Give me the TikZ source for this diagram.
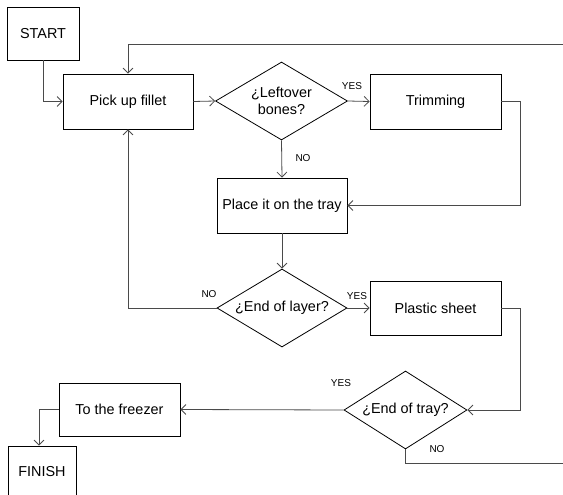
\documentclass[tikz,border=0pt]{standalone}
\usepackage{fontspec}
\setmainfont{Liberation Sans}
\usetikzlibrary{shapes.geometric,arrows.meta}
\definecolor{conn}{HTML}{4A4A4A}
\tikzset{
  box/.style={draw=black, line width=0.8pt, rectangle, inner sep=0pt, align=center,
    font=\fontsize{14.4}{17}\selectfont},
  dia/.style={draw=black, line width=0.8pt, diamond, aspect=1.7, inner sep=0pt, align=center,
    font=\fontsize{14.4}{17}\selectfont},
  flow/.style={draw=conn, line width=0.8pt, -{Straight Barb[length=5pt,width=10pt]}},
  plain/.style={draw=conn, line width=0.8pt},
  lbl/.style={inner sep=0pt, font=\fontsize{10}{12}\selectfont}
}
\begin{document}
\begin{tikzpicture}[x=1pt,y=-1pt]
\useasboundingbox (0,0) rectangle (563,495);
% nodes
\node[box, minimum width=72, minimum height=53] (start) at (43,33.5) {START};
\node[box, minimum width=130, minimum height=55] (pick) at (128,101.5) {Pick up fillet};
\node[dia, minimum width=132, minimum height=78] (bones) at (281.5,101) {¿Leftover\\bones?};
\node[box, minimum width=131, minimum height=55] (trim) at (435.5,101.5) {Trimming};
\node[box, minimum width=130, minimum height=55] (place) at (282,205.5) {Place it on the tray};
\node[dia, minimum width=130, minimum height=78] (layer) at (282,308) {¿End of layer?};
\node[box, minimum width=131, minimum height=54] (plastic) at (435.5,308) {Plastic sheet};
\node[dia, minimum width=123, minimum height=78] (tray) at (405.5,410) {¿End of tray?};
\node[box, minimum width=121, minimum height=53] (freezer) at (119.5,409.5) {To the freezer};
\node[box, minimum width=68, minimum height=52] (finish) at (42,472) {FINISH};
% free ends
\coordinate (topend) at (563,44);
\coordinate (noend) at (563,463);
\coordinate (trimturn) at (520,101.5);
\coordinate (plasticturn) at (520,308);
\coordinate (topturn) at (128,44);
\coordinate (noturn) at (128,308);
\coordinate (trayturn) at (405.5,463);
% connectors
\draw[flow] (start.south) |- (pick.west);
\draw[flow] (pick.east) -- (bones.west);
\draw[flow] (bones.east) -- (trim.west);
\draw[flow] (bones.south) -- (place.north);
\draw[flow] (trim.east) -- (trimturn) |- (place.east);
\draw[flow] (place.south) -- (layer.north);
\draw[flow] (layer.east) -- (plastic.west);
\draw[flow] (layer.west) -- (noturn) -- (pick.south);
\draw[flow] (plastic.east) -- (plasticturn) |- (tray.east);
\draw[flow] (tray.west) -- (freezer.east);
\draw[plain] (tray.south) -- (trayturn) -- (noend);
\draw[flow] (topend) -- (topturn) -- (pick.north);
\draw[flow] (freezer.west) -| ([xshift=-3pt]finish.north);
% labels
\node[lbl] (l1) at (352,86) {YES};
\node[lbl] (l2) at (303,158) {NO};
\node[lbl] (l3) at (357,296) {YES};
\node[lbl] (l4) at (209,294) {NO};
\node[lbl] (l5) at (341,383) {YES};
\node[lbl] (l6) at (437,449) {NO};
\end{tikzpicture}
\end{document}
